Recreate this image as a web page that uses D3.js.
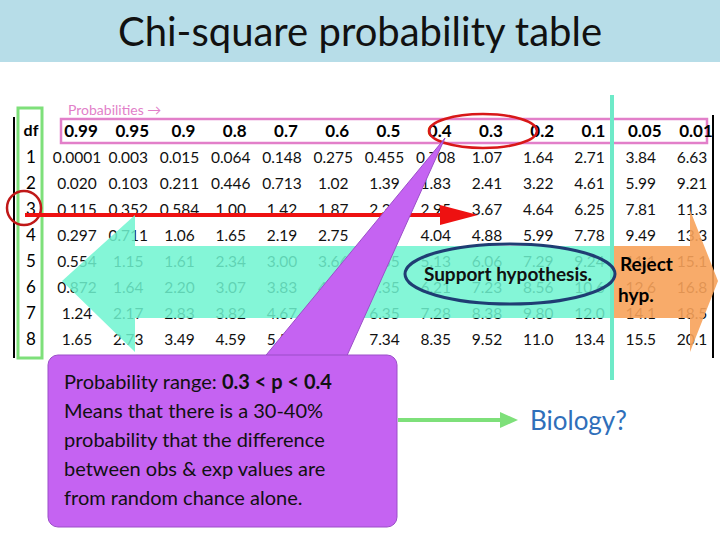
<!DOCTYPE html>
<html><head><meta charset="utf-8">
<script src="https://cdn.jsdelivr.net/npm/d3@7"></script>
<style>body{margin:0;background:#fff}svg{font-family:Lato,"Open Sans",sans-serif}</style>
</head><body><svg id="c" width="720" height="540"></svg>
<script>
const probs = ["0.99","0.95","0.9","0.8","0.7","0.6","0.5","0.4","0.3","0.2","0.1","0.05","0.01"];
const dfs = [1,2,3,4,5,6,7,8];
const table = [
  ["0.0001","0.003","0.015","0.064","0.148","0.275","0.455","0.708","1.07","1.64","2.71","3.84","6.63"],
  ["0.020","0.103","0.211","0.446","0.713","1.02","1.39","1.83","2.41","3.22","4.61","5.99","9.21"],
  ["0.115","0.352","0.584","1.00","1.42","1.87","2.37","2.95","3.67","4.64","6.25","7.81","11.3"],
  ["0.297","0.711","1.06","1.65","2.19","2.75","3.36","4.04","4.88","5.99","7.78","9.49","13.3"],
  ["0.554","1.15","1.61","2.34","3.00","3.66","4.35","5.13","6.06","7.29","9.24","11.1","15.1"],
  ["0.872","1.64","2.20","3.07","3.83","4.57","5.35","6.21","7.23","8.56","10.6","12.6","16.8"],
  ["1.24","2.17","2.83","3.82","4.67","5.49","6.35","7.28","8.38","9.80","12.0","14.1","18.5"],
  ["1.65","2.73","3.49","4.59","5.53","6.42","7.34","8.35","9.52","11.0","13.4","15.5","20.1"]
];
const note = ["Means that there is a 30-40%","probability that the difference","between obs & exp values are","from random chance alone."];

const svg = d3.select("#c");
const x = d3.scaleLinear().domain([0, probs.length - 1]).range([77, 692]);
const y = d3.scaleLinear().domain([0, dfs.length]).range([131, 339]);

// title bar
svg.append("rect").attr("width", 720).attr("height", 62).attr("fill", "#b7dde8");
svg.append("text").attr("x", 360).attr("y", 46).attr("text-anchor", "middle")
  .attr("font-size", 40).attr("fill", "#111").text("Chi-square probability table");

// frame
svg.append("line").attr("x1", 14).attr("x2", 14).attr("y1", 117).attr("y2", 358).attr("stroke", "#000").attr("stroke-width", 2);
svg.append("line").attr("x1", 713).attr("x2", 713).attr("y1", 115).attr("y2", 358).attr("stroke", "#000").attr("stroke-width", 2);
svg.append("rect").attr("x", 18).attr("y", 108).attr("width", 24).attr("height", 250)
  .attr("fill", "none").attr("stroke", "#7ee07a").attr("stroke-width", 3);
svg.append("rect").attr("x", 61).attr("y", 119).attr("width", 646).attr("height", 24)
  .attr("fill", "none").attr("stroke", "#e27fc9").attr("stroke-width", 2.5);
svg.append("text").attr("x", 68).attr("y", 115).attr("font-size", 14).attr("fill", "#e27fc9").text("Probabilities \u2192");

// header
svg.append("text").attr("x", 31).attr("y", y(0) + 5).attr("text-anchor", "middle")
  .attr("font-size", 16).attr("font-weight", "bold").text("df");
svg.selectAll(".ph").data(probs).join("text")
  .attr("x", (d, i) => x(i) + 4).attr("y", y(0) + 6).attr("text-anchor", "middle")
  .attr("font-size", 17).attr("font-weight", "bold").text(d => d);
svg.selectAll(".df").data(dfs).join("text")
  .attr("x", 31).attr("y", (d, i) => y(i + 1) + 6).attr("text-anchor", "middle")
  .attr("font-size", 17).text(d => d);
table.forEach((row, r) => {
  svg.selectAll(null).data(row).join("text")
    .attr("x", (d, i) => x(i)).attr("y", y(r + 1) + 6).attr("text-anchor", "middle")
    .attr("font-size", 15.5).attr("fill", "#111").text(d => d);
});

// red markers
svg.append("ellipse").attr("cx", 483).attr("cy", 131).attr("rx", 54).attr("ry", 17)
  .attr("fill", "none").attr("stroke", "#d81818").attr("stroke-width", 2.5);
svg.append("circle").attr("cx", 24).attr("cy", 208).attr("r", 17)
  .attr("fill", "none").attr("stroke", "#c01818").attr("stroke-width", 2.5);
svg.append("line").attr("x1", 25).attr("x2", 445).attr("y1", 215).attr("y2", 215).attr("stroke", "#ee1111").attr("stroke-width", 4);
svg.append("path").attr("d", "M440,205 L478,215 L440,225 Z").attr("fill", "#ee1111");

// teal arrow
svg.append("path").attr("d", "M610,246 L135,246 L135,215 L62,281 L135,352 L135,318 L610,318 Z")
  .attr("fill", "#6ff5d0").attr("opacity", 0.85);
// orange arrow
svg.append("path").attr("d", "M613,246 L690,246 L690,210 L718,281 L690,352 L690,318 L613,318 Z")
  .attr("fill", "#f7a25a").attr("opacity", 0.9);
svg.append("line").attr("x1", 612).attr("x2", 612).attr("y1", 95).attr("y2", 380).attr("stroke", "#6eeac8").attr("stroke-width", 4);

svg.append("ellipse").attr("cx", 510).attr("cy", 274).attr("rx", 105).attr("ry", 30)
  .attr("fill", "none").attr("stroke", "#1f3d73").attr("stroke-width", 3);
svg.append("text").attr("x", 508).attr("y", 281).attr("text-anchor", "middle").attr("font-size", 19)
  .attr("font-weight", "bold").attr("fill", "#111").text("Support hypothesis.");
svg.append("text").attr("x", 620).attr("y", 271).attr("font-size", 19).attr("font-weight", "bold").text("Reject");
svg.append("text").attr("x", 618).attr("y", 302).attr("font-size", 19).attr("font-weight", "bold").text("hyp.");

// purple callout
svg.append("path").attr("d", "M262,360 L445,138 L345,360 Z").attr("fill", "#c563f2").attr("stroke", "#9b4fc8");
svg.append("rect").attr("x", 48).attr("y", 355).attr("width", 349).attr("height", 172).attr("rx", 10)
  .attr("fill", "#c563f2").attr("stroke", "#9b4fc8");
const t0 = svg.append("text").attr("x", 64).attr("y", 389).attr("font-size", 20).attr("fill", "#111");
t0.append("tspan").text("Probability range: ");
t0.append("tspan").attr("font-weight", "bold").text("0.3 < p < 0.4");
svg.selectAll(".nt").data(note).join("text")
  .attr("x", 64).attr("y", (d, i) => 418 + i * 29).attr("font-size", 20)
  .attr("fill", "#111").text(d => d);

// green arrow + Biology?
svg.append("line").attr("x1", 398).attr("x2", 503).attr("y1", 420).attr("y2", 420).attr("stroke", "#7ee07a").attr("stroke-width", 4);
svg.append("path").attr("d", "M500,412 L518,420 L500,428 Z").attr("fill", "#7ee07a");
svg.append("text").attr("x", 530).attr("y", 430).attr("font-size", 26).attr("fill", "#2f6fba").text("Biology?");
</script></body></html>
